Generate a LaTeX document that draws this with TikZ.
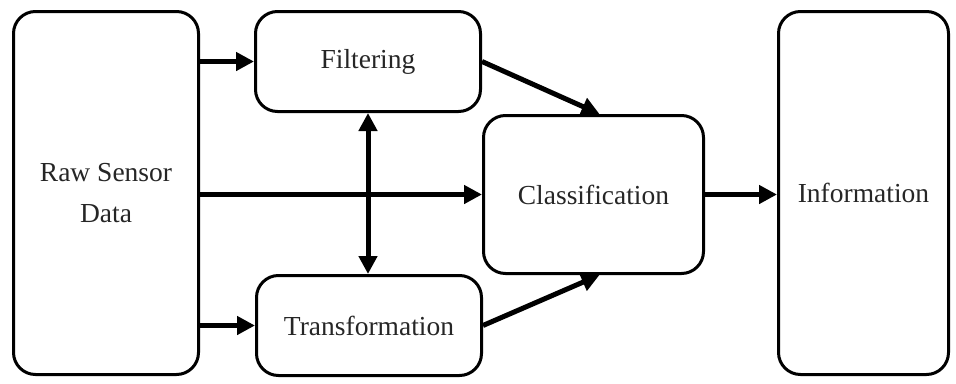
\documentclass[tikz,border=0pt]{standalone}
\usepackage{fontspec}
\setmainfont{Liberation Serif}
\usetikzlibrary{arrows.meta}
\begin{document}
\begin{tikzpicture}[x=1pt,y=-1pt,
  blk/.style={draw, line width=3pt, rounded corners=22pt, align=center,
    inner sep=0pt, font=\fontsize{27.5}{41}\selectfont, text=black!85},
  arr/.style={line width=5pt, -{Triangle[length=18pt,width=18pt]}},
  darr/.style={line width=5pt, {Triangle[length=18pt,width=18pt]}-{Triangle[length=18pt,width=18pt]}}]
\useasboundingbox (0,0) rectangle (956,383);
\node[blk, minimum width=185pt, minimum height=363pt] (raw) at (106,193) {Raw Sensor\\Data};
\node[blk, minimum width=225pt, minimum height=100pt] (filt) at (368,61.5) {Filtering};
\node[blk, minimum width=225pt, minimum height=100pt] (trans) at (369,325.5) {Transformation};
\node[blk, minimum width=220pt, minimum height=158pt] (class) at (593.5,194.5) {Classification};
\node[blk, minimum width=170pt, minimum height=363pt] (info) at (863.5,193) {Information};
\draw[arr] (raw.east |- filt) -- (filt.west);
\draw[arr] (raw.east |- class) -- (class.west);
\draw[arr] (raw.east |- trans) -- (trans.west);
\draw[darr] (filt.south) -- (trans.north -| filt.south);
\draw[arr] (filt.east) -- ([xshift=6pt]class.north);
\draw[arr] (trans.east) -- ([xshift=6pt]class.south);
\draw[arr] (class.east) -- (info.west |- class.east);
\end{tikzpicture}
\end{document}
